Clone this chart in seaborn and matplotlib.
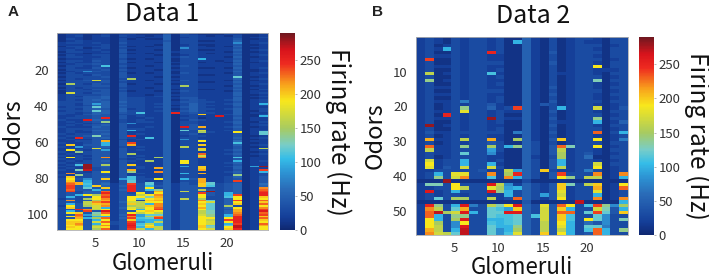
import matplotlib
matplotlib.use("Agg")
import matplotlib.pyplot as plt
import pandas as pd
import seaborn as sns
from matplotlib.colors import LinearSegmentedColormap

# firing rates: one string per odor, one char per glomerulus,
# each char is base-36 tens of Hz ('a' = 100 Hz, 'p' = 250 Hz)
rates_a = [
    "122112 122111 413211 122112", "123123 132212 513321 213112", "122122 122122 512322 223123",
    "132122 131211 513322 224112", "123222 132222 413311 225122", "233232 142222 513322 228123",
    "222223 132221 512311 224112", "133233 141212 513321 215122", "223123 132222 518322 224112",
    "232232 141221 513311 225123", "133223 142222 523322 214112", "222122 131212 513321 225122",
    "132233 142221 512322 224123", "233223 142222 524322 215112", "122233 131212 5133a2 224122",
    "233243 142222 513322 125123", "132233 141221 523312 214112", "223343 132222 513322 225122",
    "13323b 142212 524322 224122", "232243 131222 513311 215123", "133334 142221 523322 224112",
    "223843 132222 513322 225112", "132333 141212 514322 214123", "233243 142222 523311 224122",
    "133334 142221 513322 22c112", "232333 13f222 523322 225123", "1334h4 142212 514322 214112",
    "233334 132222 523311 225122", "1f3243 141221 513322 224123", "233344 142222 52f322 215112",
    "132333 132212 523322 224122", "233244 142222 513311 225113", "133334 131221 524322 214122",
    "1h3244 142222 513322 225123", "233334 142212 523322 225112", "232445 142223 513322 224123",
    "233445 143322 524422 225112", "232454 143322 513432 235123", "333445 153322 524433 224123",
    "332495 143323 523532 23512a", "332355 153322 513533 225123", "2334c5 143323 524532 224122",
    "332454 152322 513533 235123", "2334c5 153323 524532 225113", "332355 143b22 5p3433 225122",
    "322454 133322 5133k2 235113", "223344 142322 512322 q2411a", "23334p 142232 513312 225122",
    "322q54 132322 512432 224122", "23234e 132332 513322 235113", "223233 148222 513322 225122",
    "232345 142222 513422 224123", "322254 142232 51q4l2 235112", "233344 143322 513432 224122",
    "232355 14a322 51c3h2 234123", "232244 142222 5133f3 22j12c", "323345 142322 513422 22412c",
    "2334d4 14p222 512332 224112", "32p345 1432b2 513322 225123", "232243 132322 518332 224112",
    "22334l 142222 5133j2 226122", "32234a 14o222 513322 22b112", "2k244a 14l222 5133k2 225123",
    "329345 132322 51g322 224112", "2323h4 142222 5133k2 22412g", "2j3249 142322 5133h2 235123",
    "32e344 142222 513322 224112", "232344 14f222 5133n2 235123", "323244 142322 5133h2 224112",
    "2j334m 14322f 5133m2 22b122", "323244 132322 513322 224122", "232345 1432f2 51j322 22a123",
    "323344 142222 51j322 235122", "23bs4f 14k222 513322 224122", "323s45 143322 5193k2 23519s",
    "232s34 14232l 5133k2 225122", "32dr34 14l222 5133l2 22412o", "22324j 14e22m 513322 23512a",
    "2m2345 142322 51a3l2 224123", "32e344 142222 513322 22e123", "2k3345 14b322 513322 235124",
    "3j484k 19b33j 51a4l2 234124", "3k3a44 14c322 5133l2 23o124", "3mla45 14c3c3 5143lc 234124",
    "3nlb46 24o4c3 5243kc 345126", "3o4ak5 25p4a4 5244kb 345125", "3o4c4k 24p4j3 524443 34512m",
    "3n44a5 25p4ae 5244g4 34512n", "3o355n 24p44l 52g44s 34512o", "34355p 243j4j 5244o4 3a512p",
    "34ajfn 244gjm 5244j4 3ao12p", "3a34jo 24jjdl 5244j3 3bj12k", "243fjm 24jcjk 52g4f3 35j12j",
    "3m34fl 24j3kl 5244mc 35o12n", "343gmo 25hgjj 5244jh 35j12k", "3a4gkl 24kgam 5244kc 35k12n",
    "2j4fhm 24fgkm 5244jc 3f312j", "3k44ha 25ifjn 5244lc 35j12m", "34pmgj 24jajo 5244jc 34l12o",
    "3a4o4q 244jkj 5244gd 35l12q", "3jk4dn 24jgjg 5244gd 35m12n", "34n9ej 25p9cc 5244he 3an12o",
    "3jm4aa 24m9gm 5244je 3ap12k", "34lafn 25obco 5244jj 3jp12n", "3jj4aj 24kaaa 5244jg 3op12k",
    "3kk4hn 34o8ag 5244jh 3jp12j", "3km4aj 34pbga 5244jh 3ao12n", "3jl4fm 24qcja 5244kc 3cr12l",
    "3kj4hj 24pakg 5244kd 3jr12j", "3jj4fn 24ogag 5244jh 3kp12j",
]
rates_b = [
    "232132 332311 521312 332133", "232132 33231a 521312 322133", "231232 332311 521312 333123",
    "232a32 332311 521312 332133", "231132 33p311 521412 333133", "232232 332211 521312 332133",
    "2o1132 332211 521312 333123", "231132 333311 521412 332133", "232232 332211 521312 33j133",
    "231132 332311 521312 332223", "2g1232 33b211 521322 332133", "231132 332311 521312 333123",
    "2e1232 332211 521312 33d133", "231132 332311 521312 332123", "232232 332211 521412 332133",
    "231132 333311 521312 333123", "232232 332211 521412 332133", "231132 332311 521312 332123",
    "232237 332311 521412 333133", "231232 334211 524312 332123", "23123e 33523o 5213a2 33h124",
    "23223i 332322 521412 332133", "231p32 332311 521312 333123", "232232 33s322 521412 33e133",
    "231132 332311 521322 33a125", "2s1232 332211 521412 332133", "231132 332311 521312 333123",
    "242233 333317 521412 33n13a", "231232 332211 521312 332123", "2l223g 33l21f 5214k2 33j127",
    "231232 334311 531312 333133", "2n223e 33f3ae 5314nd 33j123", "2g2233 339311 5314g2 332133",
    "23223c 338211 5314f2 342123", "231233 332211 5213f2 361133", "2h233a 332311 5314a2 332123",
    "2j233a 33a211 5314a2 33h133", "2i243h 33h311 5314g2 33j123", "223333 3422g9 53k322 373123",
    "23a3ii 33m2fp 5314o3 33m12m", "23e3hm 33b2ma 5314je 3gg12a", "111s11 111111 311111 111111",
    "2dd3j3 33qg82 5324kd 3gk12j", "2233jg 33if9a 5324k2 33l12n", "2q23a3 33qea3 5324i2 33i123",
    "232332 3322a3 5394h2 33a123", "23c3ff 33g23n 5324j2 33m12m", "111111 111111 411111 r1111a",
    "2pe3aq 73gdjq 53i4nj 3boe8f", "2mg3cl 33cb9k 53h4ka 33hd4a", "2nrfhq a3ccqq 53h4nn 3coc4k",
    "2na3ee 33cbbc 5bh4kb 33c833", "2ja3fq 33aabc 53h4kb 3jc83d", "2jf38j 33babc 53g4ja 364833",
    "2jg38q 33caae 53g4ia 3cc733", "2lg3ar 33c8af 53g4ga 3bna3e", "2mhgcr 33c8bi 53k4ja 34na33",
]
glomeruli = [str(i) for i in range(1, 25)]
x_ticks = [5, 10, 15, 20]
y_ticks_a = [20, 40, 60, 80, 100]
y_ticks_b = [10, 20, 30, 40, 50]
cbar_ticks = [0, 50, 100, 150, 200, 250]


def to_frame(rows):
    vals = [[int(c, 36) * 10 for c in row.replace(" ", "")] for row in rows]
    return pd.DataFrame(vals, columns=glomeruli)


sns.set_theme(style="white")
plt.rcParams["font.family"] = ["Noto Sans CJK JP", "DejaVu Sans"]

cmap = LinearSegmentedColormap.from_list("firing", [
    (0 / 290, "#0f2870"), (10 / 290, "#123488"), (20 / 290, "#15409a"), (40 / 290, "#2056aa"),
    (60 / 290, "#2a6cb8"), (85 / 290, "#2d94d4"), (105 / 290, "#35bde8"), (125 / 290, "#78cdc8"),
    (150 / 290, "#a8cb60"), (190 / 290, "#f8e71c"), (215 / 290, "#f8a01c"), (245 / 290, "#ee2a20"),
    (265 / 290, "#d8141c"), (290 / 290, "#701820"),
])

W, H = 709, 278
fig = plt.figure(figsize=(W / 100, H / 100), dpi=100)


def box(l, t, r, b):
    return [l / W, 1 - b / H, (r - l) / W, (b - t) / H]


def panel(rows, hm, cb, title, tx, ty, letter, lx, yticks, yoff, ylab_x, xlab_y, cb_x):
    ax = fig.add_axes(box(*hm))
    cax = fig.add_axes(box(*cb))
    sns.heatmap(to_frame(rows), ax=ax, cbar_ax=cax, cmap=cmap, vmin=0, vmax=290,
                xticklabels=False, yticklabels=False)
    ax.set_xticks([t - 0.65 for t in x_ticks])
    ax.set_xticklabels(x_ticks, fontsize=9.5, color="#333333")
    ax.set_yticks([t + yoff for t in yticks])
    ax.set_yticklabels(yticks, fontsize=9.5, color="#333333", rotation=0)
    ax.tick_params(axis="x", length=0, pad=5)
    ax.tick_params(axis="y", length=0, pad=6)
    for s in ax.spines.values():
        s.set_visible(True)
        s.set_color("#b0b0b0")
        s.set_linewidth(0.6)
    cax.set_yticks(cbar_ticks)
    cax.set_yticklabels(cbar_ticks, fontsize=9.5, color="#333333")
    cax.tick_params(length=1.5, pad=2, width=0.5, color="#999999")
    fig.text(tx / W, 1 - ty / H, title, fontsize=18, ha="center", va="center", color="#111111")
    fig.text(ylab_x / W, 1 - (hm[1] + hm[3]) / 2 / H, "Odors", fontsize=17, rotation=90,
             ha="center", va="center", color="#111111")
    fig.text((hm[0] + hm[2]) / 2 / W, 1 - xlab_y / H, "Glomeruli", fontsize=16, ha="center",
             va="center", color="#111111")
    fig.text(cb_x / W, 1 - (cb[1] + cb[3]) / 2 / H, "Firing rate (Hz)", fontsize=17.5, rotation=-90,
             ha="center", va="center", color="#111111")
    fig.text(lx / W, 1 - 12 / H, letter, fontsize=11, fontweight="bold", family="Liberation Sans",
             ha="left", va="center", color="#222222")


panel(rates_a, (57, 33, 268, 230), (280, 33, 295, 230), "Data 1", 162, 14, "A", 8, y_ticks_a, 0.85, 13, 264, 338)
panel(rates_b, (416, 37, 628, 235), (639, 37, 654, 235), "Data 2", 533, 16, "B", 372, y_ticks_b, 0.0, 375, 267, 697)

fig.savefig("out.png", dpi=100)
